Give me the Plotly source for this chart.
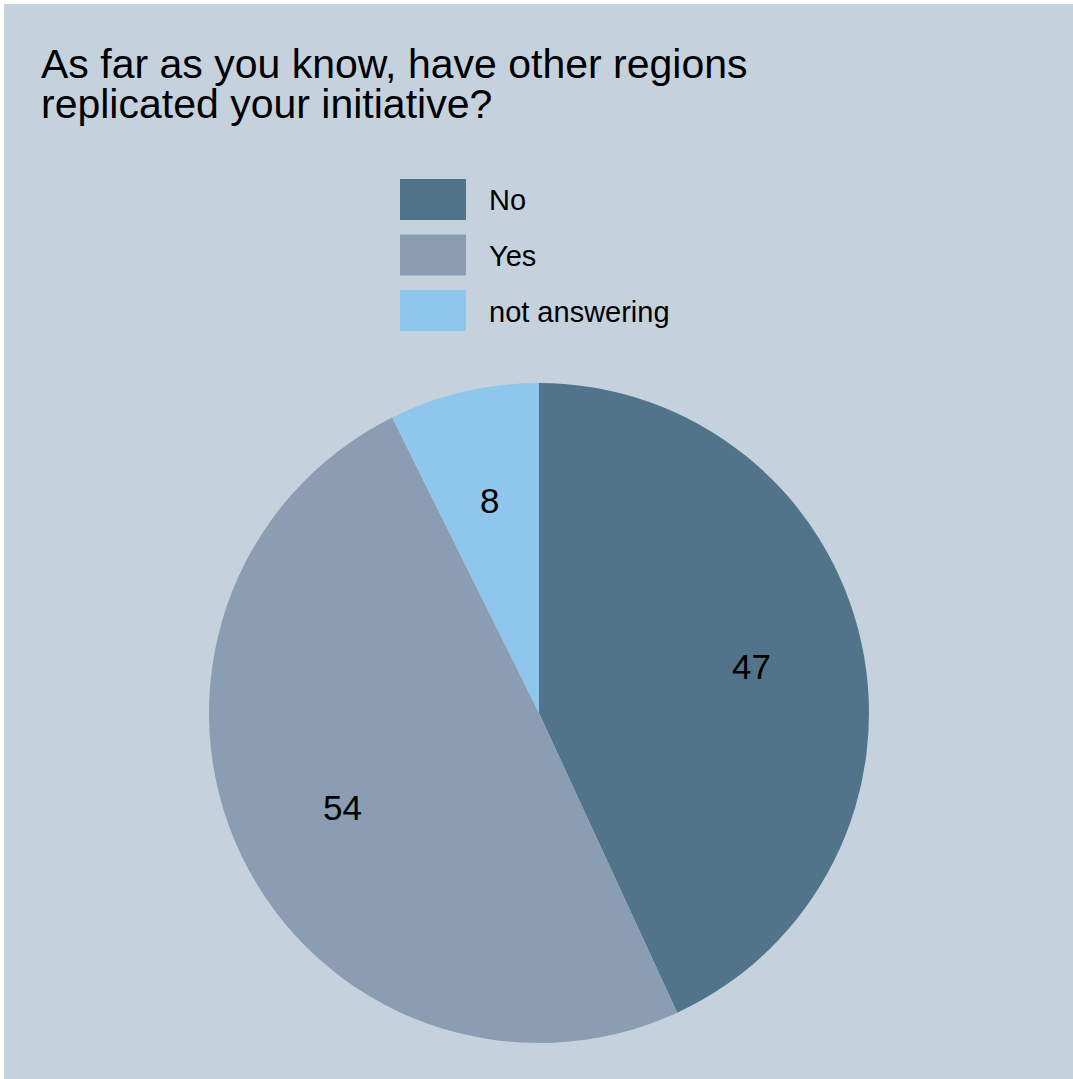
import math
import plotly.graph_objects as go

# Data
labels = ["No", "Yes", "not answering"]
values = [47, 54, 8]
colors = ["#52748a", "#8a9db2", "#8fc6ec"]
title_lines = ["As far as you know, have other regions", "replicated your initiative?"]

BG = "#c5d2de"
W, H = 1069, 1075
OFF = 4  # page body offset (set through post_script)
FONT = "Liberation Sans, Arial"


def px(X):
    return (X - OFF) / W


def py(Y):
    return 1 - (Y - OFF) / H


cx, cy, R = 539, 713, 330

fig = go.Figure()
fig.add_trace(go.Pie(
    labels=labels,
    values=values,
    marker=dict(colors=colors, line=dict(width=0)),
    sort=False,
    direction="clockwise",
    rotation=0,
    textinfo="none",
    domain=dict(x=[px(cx - R), px(cx + R)], y=[py(cy + R), py(cy - R)]),
    showlegend=False,
    hoverinfo="label+value",
))

annotations = []
for i, line in enumerate(title_lines):
    annotations.append(dict(
        text=line, x=px(39), y=py(64 + i * 40), xref="paper", yref="paper",
        xanchor="left", yanchor="middle", showarrow=False,
        font=dict(family=FONT, size=41, color="black"),
    ))

# value labels placed at the middle angle of each slice
total = sum(values)
cum = 0
for v in values:
    theta = math.radians((cum + v / 2) / total * 360)
    cum += v
    rr = 0.66 * R
    X = cx + rr * math.sin(theta)
    Y = cy - rr * math.cos(theta)
    annotations.append(dict(
        text=str(v), x=px(X), y=py(Y), xref="paper", yref="paper",
        xanchor="center", yanchor="middle", showarrow=False,
        font=dict(family=FONT, size=35, color="black"),
    ))

shapes = []
box_x0, box_x1 = 400, 466
row0, row_gap, box_h = 199.5, 55.5, 41
for i, (lab, col) in enumerate(zip(labels, colors)):
    yc = row0 + i * row_gap
    shapes.append(dict(
        type="rect", xref="paper", yref="paper",
        x0=px(box_x0), x1=px(box_x1), y0=py(yc + box_h / 2), y1=py(yc - box_h / 2),
        fillcolor=col, line=dict(width=0),
    ))
    annotations.append(dict(
        text=lab, x=px(487), y=py(yc + 1), xref="paper", yref="paper",
        xanchor="left", yanchor="middle", showarrow=False,
        font=dict(family=FONT, size=29, color="black"),
    ))

fig.update_layout(
    width=W, height=H,
    margin=dict(l=0, r=0, t=0, b=0),
    paper_bgcolor=BG, plot_bgcolor=BG,
    annotations=annotations, shapes=shapes,
)

fig.write_html("out.html", post_script="document.body.style.margin='4px 0 0 4px';")
